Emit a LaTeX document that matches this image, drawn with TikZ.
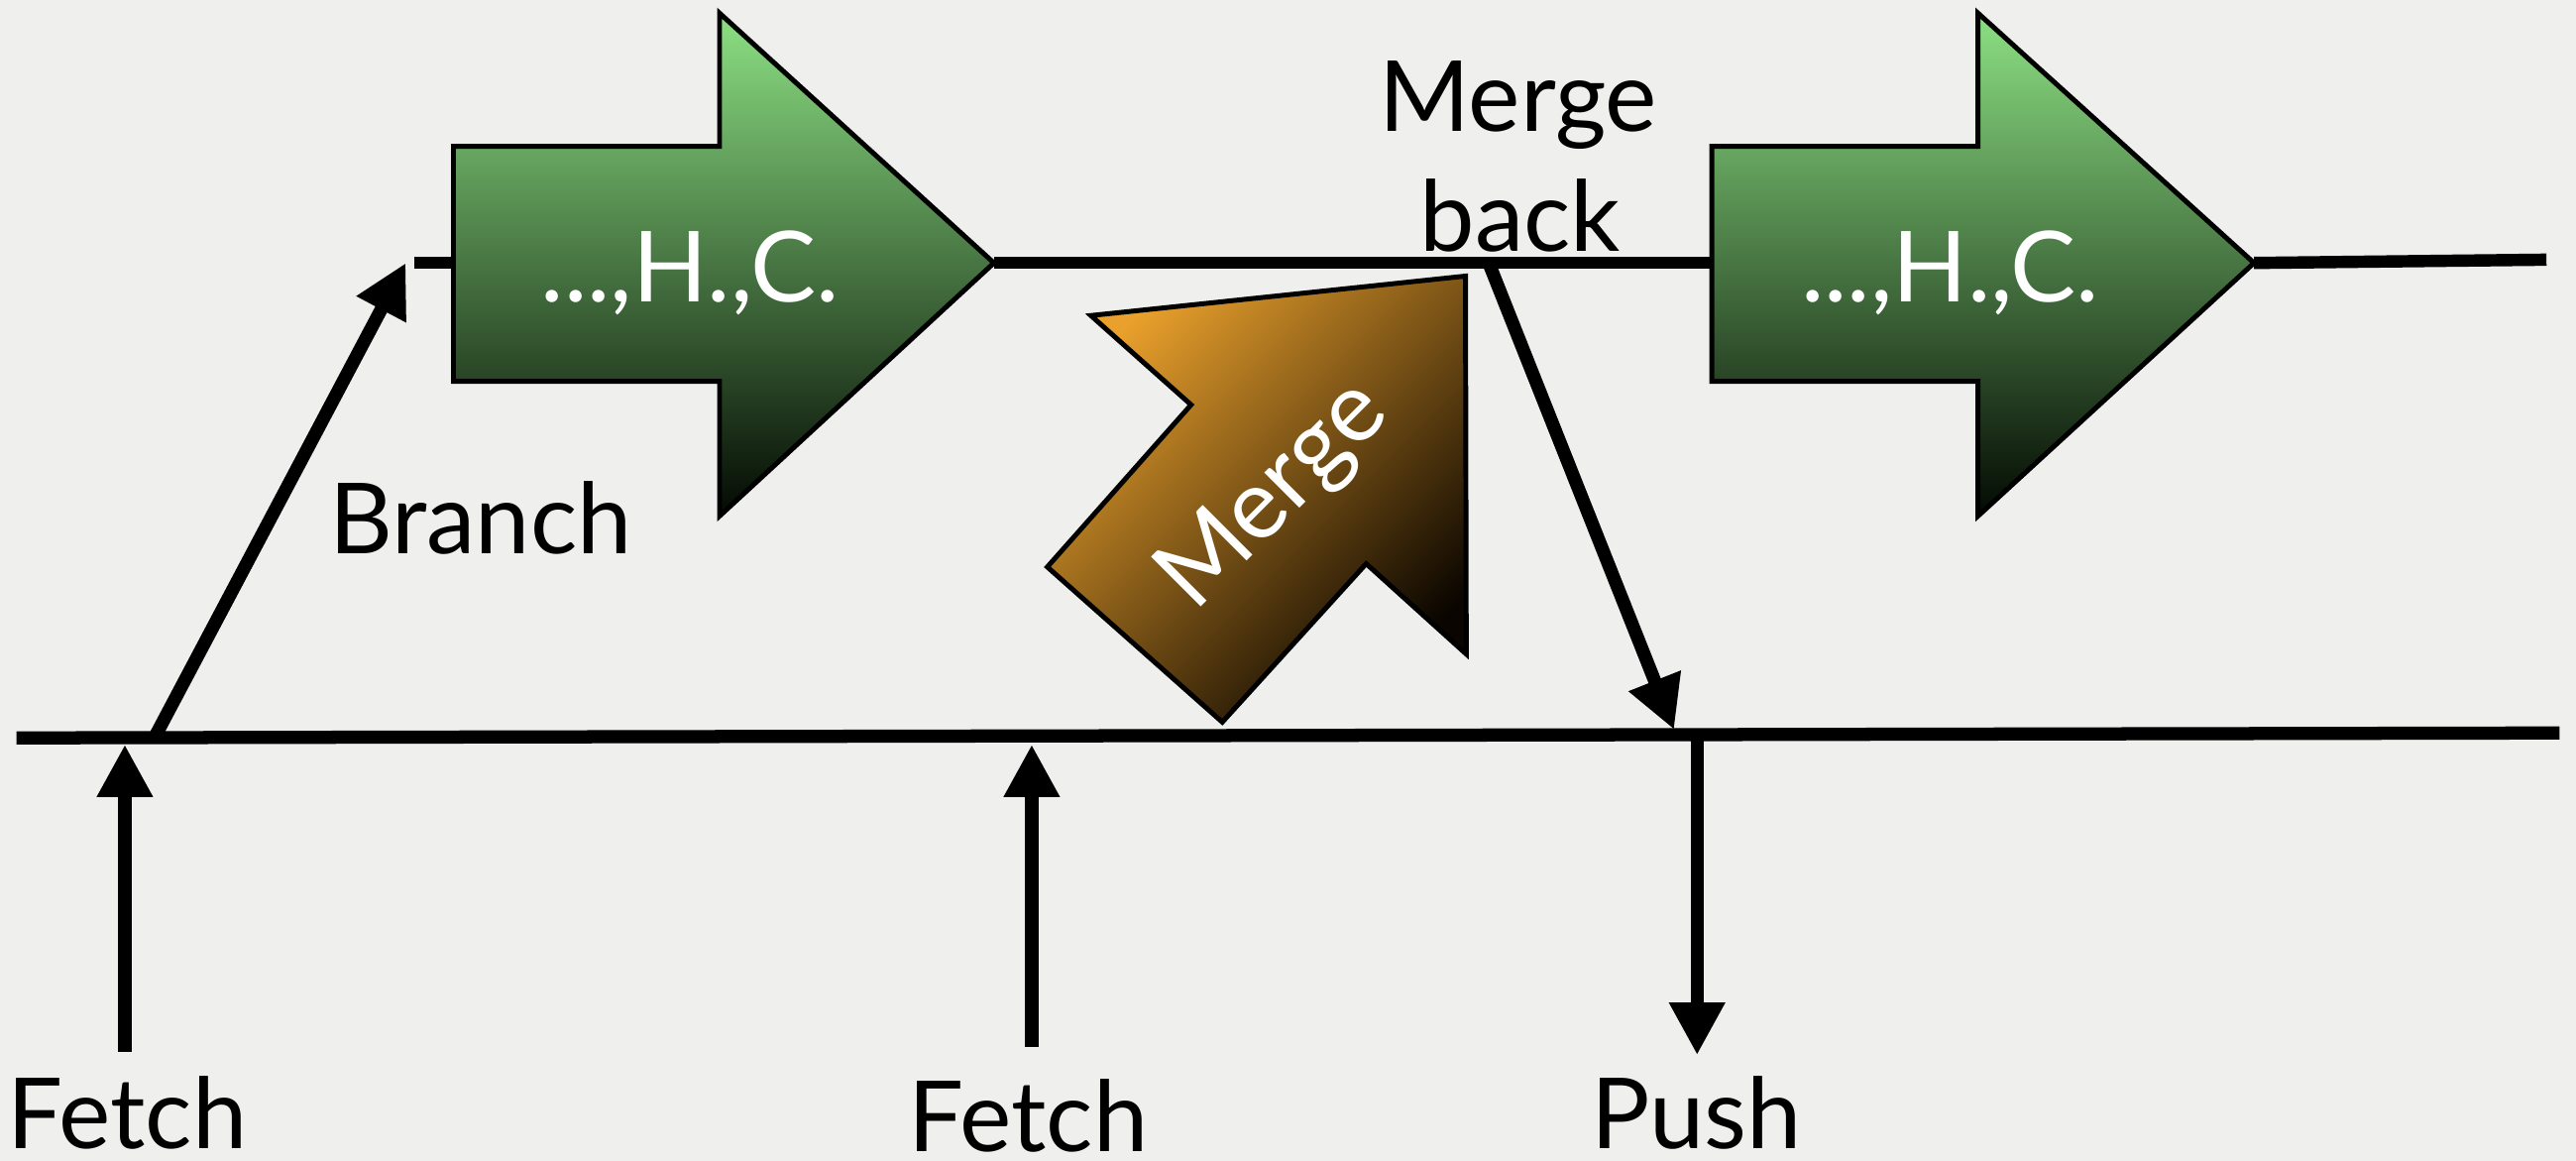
\documentclass[tikz,border=0pt]{standalone}
\usepackage{fontspec}
\setmainfont{Lato}
\usetikzlibrary{arrows.meta}
\definecolor{bgc}{HTML}{EFEFED}
\definecolor{gtop}{HTML}{8CE083}
\definecolor{gmid}{HTML}{568F52}
\definecolor{gbot}{HTML}{030A02}
\definecolor{otop}{HTML}{E9A02C}
\definecolor{omid}{HTML}{8A5A18}
\definecolor{obot}{HTML}{0A0500}
\tikzset{
  lab/.style={font=\fontsize{34}{40}\selectfont, inner sep=0pt, text=black},
  wlab/.style={lab, text=white},
  conn/.style={line width=0.16cm, draw=black},
  arr/.style={conn, -{Triangle[length=0.64cm,width=0.64cm]}},
  garrow/.style={draw=black, line width=1.7pt, line join=miter, top color=gtop, middle color=gmid, bottom color=gbot},
  oarrow/.style={draw=black, line width=1.7pt, line join=miter, top color=otop, middle color=omid, bottom color=obot, shading angle=45},
}
\begin{document}
\begin{tikzpicture}[x=0.02cm,y=-0.02cm]
\useasboundingbox (0,0) rectangle (1568,706.4);
\fill[bgc] (0,0) rectangle (1568,706.4);
% named points
\coordinate (bL) at (10,449);
\coordinate (bR) at (1558,446);
\coordinate (brS) at (95,447);
\coordinate (brE) at (247,160);
\coordinate (stubS) at (252,160);
\coordinate (a1L) at (277,160);
\coordinate (a1T) at (605,160);
\coordinate (a2L) at (1042,160);
\coordinate (a2T) at (1372,160);
\coordinate (uR) at (1550,158);
\coordinate (mbS) at (907,162);
\coordinate (mbE) at (1019,444);
\coordinate (f1S) at (76,640);
\coordinate (f1E) at (76,453);
\coordinate (f2S) at (628,637);
\coordinate (f2E) at (628,453);
\coordinate (pS) at (1033,449);
\coordinate (pE) at (1033,642);
% lines
\draw[conn] (bL) -- (bR);
\draw[conn, line width=0.15cm] (a1T) -- (a2L);
\draw[conn, line width=0.15cm] (a2T) -- (uR);
\draw[conn, line width=0.15cm] (stubS) -- (a1L);
\draw[arr] (brS) -- (brE);
\draw[arr] (mbS) -- (mbE);
\draw[arr] (f1S) -- (f1E);
\draw[arr] (f2S) -- (f2E);
\draw[arr] (pS) -- (pE);
% green arrows
\path[garrow] (276,89) -- (438,89) -- (438,8) -- (605,160) -- (438,314) -- (438,232) -- (276,232) -- cycle;
\path[garrow] (1042,89) -- (1204,89) -- (1204,8) -- (1372,160) -- (1204,314) -- (1204,232) -- (1042,232) -- cycle;
% orange merge arrow
\path[oarrow] (664,192) -- (892,168) -- (892.5,398) -- (831.6,343) -- (744,439.4) -- (637.5,345) -- (725,246.3) -- cycle;
% labels
\node[lab, anchor=base] (fetch1) at (77.5,699) {Fetch};
\node[lab, anchor=base] (fetch2) at (626,701) {Fetch};
\node[lab, anchor=base] (push) at (1032.5,699) {Push};
\node[lab, anchor=base] (branch) at (292.5,337) {Branch};
\node[lab, anchor=base] (mb1) at (924,80) {Merge};
\node[lab, anchor=base] (mb2) at (925.5,153) {back};
\node[wlab, anchor=base] (hc1) at (420,183.6) {...,H.,C.};
\node[wlab, anchor=base] (hc2) at (1187,183.6) {...,H.,C.};
\node[wlab, rotate=45] (mg) at (776,302) {Merge};
\end{tikzpicture}
\end{document}
